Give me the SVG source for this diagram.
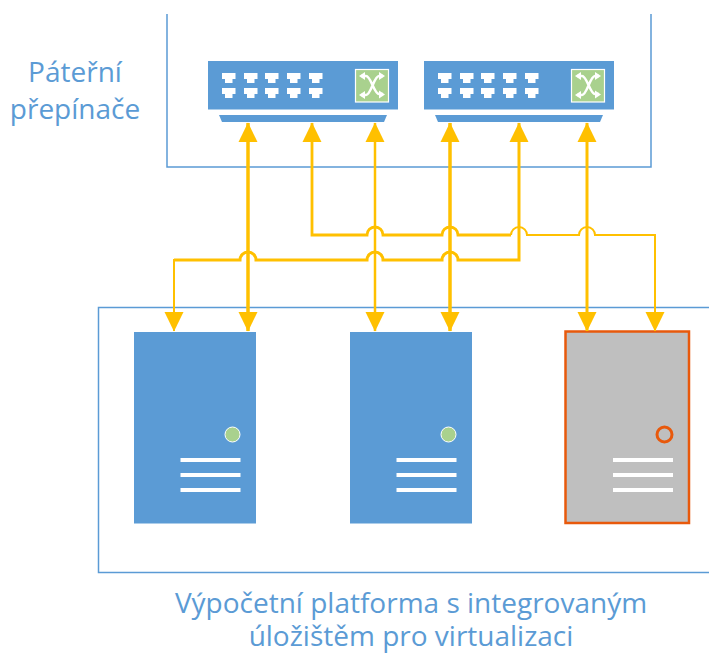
<svg xmlns="http://www.w3.org/2000/svg" xmlns:xlink="http://www.w3.org/1999/xlink" width="709" height="653" viewBox="0 0 709 653">
<style>
.frame{fill:none;stroke:#5b9bd5;stroke-width:1.5}
.lbl{font-family:"Open Sans","Noto Sans","Liberation Sans",sans-serif;font-size:28px;fill:#5b9bd5;text-anchor:middle}
.sw{fill:#5b9bd5}
.port{fill:#fff}
.c{fill:none;stroke:#ffc000;stroke-linejoin:miter}
.icon{fill:none;stroke:#fff;stroke-width:2.500}
.srv{fill:#5b9bd5}
.bar{fill:#fff}
</style>
<defs>
<marker id="a" markerUnits="userSpaceOnUse" markerWidth="20" markerHeight="20" refX="18" refY="9.500" orient="auto-start-reverse" viewBox="0 0 19 19"><path d="M0 0.500L18.500 9.500L0 18.500Z" fill="#ffc000"/></marker>
<path id="pt" d="M0 0H13.500V6H10.500V10H3V6H0Z"/>
<g id="switch">
<rect class="sw" x="0" y="0" width="190" height="48.500"/>
<path class="sw" d="M11 54H179L176 61H14Z"/>
<g class="port">
<use xlink:href="#pt" x="14" y="12"/><use xlink:href="#pt" x="36" y="12"/><use xlink:href="#pt" x="57" y="12"/><use xlink:href="#pt" x="79" y="12"/><use xlink:href="#pt" x="101" y="12"/>
<use xlink:href="#pt" x="14" y="27"/><use xlink:href="#pt" x="36" y="27"/><use xlink:href="#pt" x="57" y="27"/><use xlink:href="#pt" x="79" y="27"/><use xlink:href="#pt" x="101" y="27"/>
</g>
<rect x="147.500" y="8.500" width="33" height="32.500" fill="#a9d18e" stroke="#fff" stroke-width="1.200"/>
<path class="icon" d="M153 15H158C163 15 166 33 171 33H175M153 34H158C163 34 166 15 171 15H175"/>
<path d="M177 15l-6-4v8zM177 33.500l-6-4v8zM151 15l6-4v8zM151 34l6-4v8z" fill="#fff"/>
</g>
<g id="lines">
<rect class="bar" x="0" y="0" width="60" height="4"/><rect class="bar" x="0" y="15" width="60" height="4"/><rect class="bar" x="0" y="30" width="60" height="4"/>
</g>
</defs>
<g id="frames">
<path class="frame" d="M167 14V167H651V14"/>
<path class="frame" d="M709 307.500H98.500V572.500H709"/>
</g>
<g id="spine-1"><use xlink:href="#switch" x="208" y="61"/></g>
<g id="spine-2"><use xlink:href="#switch" x="424" y="61"/></g>
<g id="server-1">
<rect class="srv" x="134" y="332" width="122" height="191.500"/>
<circle cx="232.500" cy="434.500" r="7.500" fill="#a9d18e" stroke="#fff" stroke-width="1"/>
<use xlink:href="#lines" x="180.500" y="458"/>
</g>
<g id="server-2">
<rect class="srv" x="350" y="332" width="122" height="191.500"/>
<circle cx="448.500" cy="434.500" r="7.500" fill="#a9d18e" stroke="#fff" stroke-width="1"/>
<use xlink:href="#lines" x="396.500" y="458"/>
</g>
<g id="server-3">
<rect x="565.500" y="331.500" width="123.500" height="191.500" fill="#bfbfbf" stroke="#e8590c" stroke-width="2.500"/>
<circle cx="664.500" cy="434.500" r="7.500" fill="none" stroke="#e8590c" stroke-width="3"/>
<use xlink:href="#lines" x="613" y="458"/>
</g>
<g id="connectors">
<path class="c" stroke-width="3.500" d="M248 123V331" marker-start="url(#a)" marker-end="url(#a)"/>
<path class="c" stroke-width="2.500" d="M375 123V331" marker-start="url(#a)" marker-end="url(#a)"/>
<path class="c" stroke-width="3.500" d="M450 123V331" marker-start="url(#a)" marker-end="url(#a)"/>
<path class="c" stroke-width="3" d="M587 123V331" marker-start="url(#a)" marker-end="url(#a)"/>
<path class="c" stroke-width="2.800" d="M312 123V235H367A8 8 0 0 1 383 235H442A8 8 0 0 1 458 235H511" marker-start="url(#a)"/>
<path class="c" stroke-width="2" d="M511 235A8 8 0 0 1 527 235H579A8 8 0 0 1 595 235H655V331" marker-end="url(#a)"/>
<path class="c" stroke-width="3" d="M519 123V260H458A8 8 0 0 0 442 260H383A8 8 0 0 0 367 260H256A8 8 0 0 0 240 260H174" marker-start="url(#a)"/>
<path class="c" stroke-width="2" d="M174 259V331" marker-end="url(#a)"/>
</g>
<g id="labels">
<text class="lbl" x="75" y="82">Páteřní</text>
<text class="lbl" x="75" y="119">přepínače</text>
<text class="lbl" x="411" y="613">Výpočetní platforma s integrovaným</text>
<text class="lbl" x="411" y="646">úložištěm pro virtualizaci</text>
</g>
</svg>
